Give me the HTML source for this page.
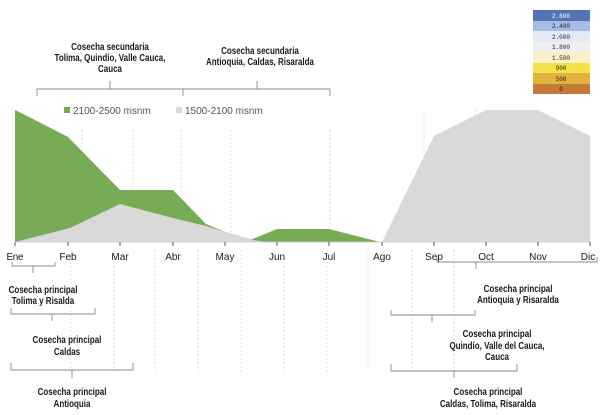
<!DOCTYPE html>
<html><head><meta charset="utf-8"><style>
html,body{margin:0;padding:0;background:#fff;}
svg{display:block;}
text{font-family:"Liberation Sans Narrow","Liberation Sans",sans-serif;fill:#1a1a1a;}
.t{font-size:10px;font-weight:bold;text-anchor:middle;}
.m{font-size:10px;text-anchor:middle;}
.b{fill:none;stroke:#8a8a8a;stroke-width:0.9;}
.g{stroke:#d8d8d8;stroke-width:0.8;stroke-dasharray:2,2;}
.lg{font-size:6px;text-anchor:middle;font-family:"Liberation Mono",monospace;}
</style></head><body>
<svg width="600" height="415" viewBox="0 0 600 415" xmlns="http://www.w3.org/2000/svg">
<g class="g">
<line x1="82" y1="130" x2="82" y2="242"/><line x1="133" y1="130" x2="133" y2="242"/><line x1="181" y1="130" x2="181" y2="242"/>
<line x1="231" y1="130" x2="231" y2="242"/><line x1="330" y1="130" x2="330" y2="242"/><line x1="424" y1="110" x2="424" y2="242"/><line x1="475" y1="110" x2="475" y2="242"/><line x1="522" y1="110" x2="522" y2="242"/>
<line x1="71" y1="250" x2="71" y2="372"/><line x1="114" y1="250" x2="114" y2="372"/><line x1="155" y1="250" x2="155" y2="372"/><line x1="198" y1="250" x2="198" y2="372"/><line x1="241" y1="250" x2="241" y2="372"/><line x1="284" y1="250" x2="284" y2="372"/><line x1="327" y1="250" x2="327" y2="372"/><line x1="368" y1="250" x2="368" y2="372"/><line x1="412" y1="250" x2="412" y2="372"/><line x1="454" y1="250" x2="454" y2="372"/>
</g>
<polygon fill="#78ab55" points="15,242 15,110 35,120 68,137 120,190 173,190 206,224 225,232 253,240 253,242"/>
<polygon fill="#78ab55" points="250,240 277,229 329,229 380,242 250,242"/>
<polygon fill="#d9d9d9" points="15,242 35,237 70,228 120,204 173,218 206,226 225,232 253,240 265,242"/>
<polygon fill="#d9d9d9" points="382,242 434,136 486,110 538,110 590,136 590,242"/>
<line x1="15" y1="242" x2="590" y2="242" stroke="#c8c8c8" stroke-width="0.8"/>
<g stroke="#555" stroke-width="1">
<line x1="15" y1="242" x2="15" y2="246"/><line x1="68" y1="242" x2="68" y2="246"/><line x1="120" y1="242" x2="120" y2="246"/><line x1="173" y1="242" x2="173" y2="246"/><line x1="225" y1="242" x2="225" y2="246"/><line x1="277" y1="242" x2="277" y2="246"/><line x1="329" y1="242" x2="329" y2="246"/><line x1="382" y1="242" x2="382" y2="246"/><line x1="434" y1="242" x2="434" y2="246"/><line x1="486" y1="242" x2="486" y2="246"/><line x1="538" y1="242" x2="538" y2="246"/><line x1="590" y1="242" x2="590" y2="246"/>
</g>
<g class="m">
<text x="15" y="260" textLength="17">Ene</text><text x="68" y="260">Feb</text><text x="120" y="260">Mar</text><text x="173" y="260">Abr</text><text x="225" y="260">May</text><text x="277" y="260">Jun</text><text x="329" y="260">Jul</text><text x="382" y="260">Ago</text><text x="434" y="260">Sep</text><text x="486" y="260">Oct</text><text x="538" y="260">Nov</text><text x="588" y="260">Dic</text>
</g>
<rect x="64" y="107" width="6" height="6" fill="#78ab55"/>
<text x="73" y="114" style="font-size:10px;fill:#555">2100-2500 msnm</text>
<rect x="176" y="107" width="6" height="6" fill="#d9d9d9"/>
<text x="185" y="114" style="font-size:10px;fill:#555">1500-2100 msnm</text>
<rect x="533" y="10" width="57" height="11" fill="#5573b4"/>
<rect x="533" y="21" width="57" height="10" fill="#a6bde3"/>
<rect x="533" y="31" width="57" height="11" fill="#e3eaf6"/>
<rect x="533" y="42" width="57" height="10" fill="#efefef"/>
<rect x="533" y="52" width="57" height="11" fill="#fcf0c8"/>
<rect x="533" y="63" width="57" height="10" fill="#f3e24a"/>
<rect x="533" y="73" width="57" height="11" fill="#e2b33c"/>
<rect x="533" y="84" width="57" height="10" fill="#c77938"/>
<text class="lg" x="561" y="18" style="fill:#fff">2.600</text>
<text class="lg" x="561" y="28">2.400</text>
<text class="lg" x="561" y="39">2.000</text>
<text class="lg" x="561" y="49">1.800</text>
<text class="lg" x="561" y="60">1.500</text>
<text class="lg" x="561" y="70">900</text>
<text class="lg" x="561" y="81">500</text>
<text class="lg" x="561" y="91">0</text>
<path class="b" d="M37,96 V89 H183 V96 M110,89 V81 M183,89 H330 V96 M257,89 V81"/>
<g transform="translate(110,0) scale(0.8,1) translate(-110,0)">
<text class="t" x="110" y="50">Cosecha secundaria</text>
<text class="t" x="110" y="61">Tolima, Quindío, Valle Cauca,</text>
<text class="t" x="110" y="72">Cauca</text></g>
<g transform="translate(260,0) scale(0.8,1) translate(-260,0)">
<text class="t" x="260" y="54">Cosecha secundaria</text>
<text class="t" x="260" y="65">Antioquia, Caldas, Risaralda</text></g>
<path class="b" d="M12,262 V266 H55 V262 M33,266 V273"/>
<g transform="translate(43,0) scale(0.8,1) translate(-43,0)">
<text class="t" x="43" y="293">Cosecha principal</text>
<text class="t" x="43" y="304">Tolima y Risalda</text></g>
<path class="b" d="M11,308 V314 H95 V308 M52,314 V321"/>
<g transform="translate(67,0) scale(0.8,1) translate(-67,0)">
<text class="t" x="67" y="343">Cosecha principal</text>
<text class="t" x="67" y="355">Caldas</text></g>
<path class="b" d="M11,363 V370 H133 V363 M72,370 V378"/>
<g transform="translate(72,0) scale(0.8,1) translate(-72,0)">
<text class="t" x="72" y="395">Cosecha principal</text>
<text class="t" x="72" y="407">Antioquia</text></g>
<path class="b" d="M437,257 V262 H597 V257 M476,262 V269"/>
<g transform="translate(518,0) scale(0.8,1) translate(-518,0)">
<text class="t" x="518" y="292">Cosecha principal</text>
<text class="t" x="518" y="303">Antioquia y Risaralda</text></g>
<path class="b" d="M391,310 V315 H475 V310 M432,315 V322"/>
<g transform="translate(497,0) scale(0.8,1) translate(-497,0)">
<text class="t" x="497" y="337">Cosecha principal</text>
<text class="t" x="497" y="349">Quindío, Valle del Cauca,</text>
<text class="t" x="497" y="360">Cauca</text></g>
<path class="b" d="M391,364 V371 H517 V364 M454,371 V378"/>
<g transform="translate(488,0) scale(0.8,1) translate(-488,0)">
<text class="t" x="488" y="395">Cosecha principal</text>
<text class="t" x="488" y="407">Caldas, Tolima, Risaralda</text></g>
</svg>
</body></html>
